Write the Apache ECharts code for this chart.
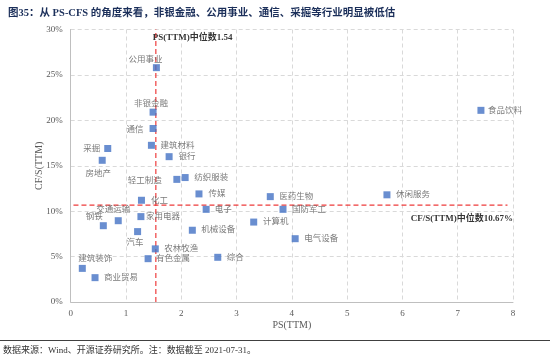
<!DOCTYPE html>
<html>
<head>
<meta charset="utf-8">
<script src="https://cdn.jsdelivr.net/npm/echarts@6/dist/echarts.min.js"></script>
<style>
html,body{margin:0;padding:0;background:#fff;}
#chart{width:550px;height:359px;}
</style>
</head>
<body>
<div id="chart"></div>
<script>
// ---- data ----
var industries = ['公用事业','非银金融','通信','采掘','建筑材料','银行','房地产','轻工制造','纺织服装','化工','交通运输','钢铁','家用电器','汽车','农林牧渔','有色金属','建筑装饰','商业贸易','传媒','医药生物','电子','国防军工','计算机','机械设备','电气设备','综合','食品饮料','休闲服务'];
var psTTM = [1.55,1.49,1.49,0.67,1.46,1.78,0.57,1.92,2.07,1.28,0.86,0.59,1.27,1.21,1.53,1.40,0.21,0.44,2.32,3.61,2.45,3.84,3.31,2.20,4.06,2.66,7.42,5.72];
var cfsTTM = [25.8,20.9,19.1,16.9,17.25,16.0,15.6,13.5,13.7,11.2,8.95,8.4,9.4,7.75,5.85,4.77,3.7,2.68,11.9,11.6,10.2,10.2,8.8,7.9,6.97,4.92,21.1,11.8];
var medianPS = 1.54;
var medianCFS = 10.67;
var xTicks = [0,1,2,3,4,5,6,7,8];
var yTicks = [0,5,10,15,20,25,30];

// ---- label placement (style only) ----
var labelOffset = {
  '公用事业':[-11,-8],'非银金融':[-2,-8],'通信':[-18,1],'采掘':[-16,0],'建筑材料':[26,0],'银行':[18,0],
  '房地产':[-4,13],'轻工制造':[-32,1],'纺织服装':[26,0],'化工':[18,0],'交通运输':[-5,-11],'钢铁':[-9,-9],
  '家用电器':[22,0],'汽车':[-2.5,11],'农林牧渔':[26,0],'有色金属':[25,0],'建筑装饰':[13,-10],'商业贸易':[26,0],
  '传媒':[18,0],'医药生物':[26,0],'电子':[17,0],'国防军工':[26,0],'计算机':[22,0],'机械设备':[26,0],
  '电气设备':[26,0],'综合':[17.5,0],'食品饮料':[24,0],'休闲服务':[26,0]
};

var FONT = "'Liberation Serif','Noto Sans CJK SC',serif";
var scatterData = industries.map(function(n,i){
  return {
    name:n, value:[psTTM[i], cfsTTM[i]],
    label:{show:true, formatter:n, position:'inside', offset:labelOffset[n]||[20,0], align:'center', verticalAlign:'middle',
           color:'#595959', fontSize:8.5, fontFamily:FONT}
  };
});

var chart = echarts.init(document.getElementById('chart'));
chart.setOption({
  animation:false,
  backgroundColor:'#fff',
  title:{
    text:'图35：从 PS-CFS 的角度来看，非银金融、公用事业、通信、采掘等行业明显被低估',
    left:3, top:3,
    textStyle:{fontSize:10.5, fontWeight:'bold', color:'#1B2F5A', fontFamily:FONT}
  },
  grid:{left:70.7, right:37, top:29.5, bottom:57},
  xAxis:{
    type:'value', min:xTicks[0], max:xTicks[xTicks.length-1], interval:1,
    name:'PS(TTM)', nameLocation:'middle', nameGap:18, nameMoveOverlap:false,
    nameTextStyle:{color:'#595959', fontSize:10, fontFamily:FONT},
    axisLine:{show:true, lineStyle:{color:'#bfbfbf'}},
    axisTick:{show:false},
    axisLabel:{color:'#595959', fontSize:9, fontFamily:FONT, margin:7},
    splitLine:{show:true, lineStyle:{color:'#d9d9d9', type:[4,3]}}
  },
  yAxis:{
    type:'value', min:yTicks[0], max:yTicks[yTicks.length-1], interval:5,
    name:'CF/S(TTM)', nameLocation:'middle', nameGap:26, nameRotate:90, nameMoveOverlap:false,
    nameTextStyle:{color:'#595959', fontSize:10, fontFamily:FONT},
    axisLine:{show:true, lineStyle:{color:'#bfbfbf'}},
    axisTick:{show:false},
    axisLabel:{color:'#595959', fontSize:9, fontFamily:FONT, margin:8, formatter:'{value}%'},
    splitLine:{show:true, lineStyle:{color:'#d9d9d9', type:[4,3]}}
  },
  series:[
    {
      type:'line', silent:true, symbol:'none', z:3,
      lineStyle:{color:'#EE3B3B', width:1.2, type:[5,3]},
      data:[[medianPS,yTicks[0]],[medianPS,yTicks[yTicks.length-1]]]
    },
    {
      type:'line', silent:true, symbol:'none', z:3,
      lineStyle:{color:'#EE3B3B', width:1.2, type:[5,3]},
      data:[[0.05,medianCFS],[7.9,medianCFS]]
    },
    {
      type:'scatter', symbol:'rect', symbolSize:7, z:5,
      itemStyle:{color:'#4472C4'},
      data:scatterData
    },
    {
      type:'scatter', symbolSize:0, silent:true, z:6,
      data:[
        {value:[medianPS,yTicks[yTicks.length-1]], label:{show:true, formatter:'PS(TTM)中位数' + medianPS, position:'inside', align:'left', verticalAlign:'middle', offset:[-3,8], color:'#000', fontWeight:'bold', fontSize:9, fontFamily:FONT}},
        {value:[7.9,medianCFS], label:{show:true, formatter:'CF/S(TTM)中位数' + medianCFS + '%', position:'inside', align:'right', verticalAlign:'middle', offset:[5.5,14], color:'#000', fontWeight:'bold', fontSize:9, fontFamily:FONT}}
      ]
    }
  ],
  graphic:[
    {type:'line', shape:{x1:0, y1:340.5, x2:550, y2:340.5}, style:{stroke:'#404040', lineWidth:1}},
    {type:'text', left:3, top:346, style:{text:'数据来源：Wind、开源证券研究所。注：数据截至 2021-07-31。', fill:'#333', fontSize:9, fontFamily:FONT}}
  ]
});
</script>
</body>
</html>
